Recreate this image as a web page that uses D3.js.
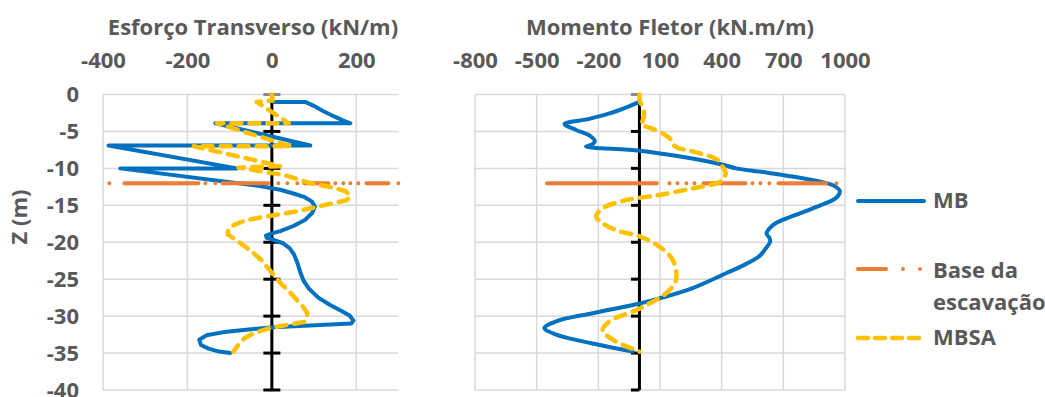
<!DOCTYPE html>
<html>
<head>
<meta charset="utf-8">
<script src="https://cdn.jsdelivr.net/npm/d3@7"></script>
<style>
  html, body { margin: 0; padding: 0; background: #fff; }
  svg { display: block; }
  svg text { font-family: "Open Sans", Lato, sans-serif; font-weight: 700; font-size: 22px; fill: #595959; }
</style>
</head>
<body>
<svg id="chart" width="1045" height="397"></svg>
<script>
// Depth axis (m) and value ticks for both panels
const depthTicks = [0, -5, -10, -15, -20, -25, -30, -35, -40];
const shearTicks = [-400, -200, 0, 200];
const momentTicks = [-800, -500, -200, 100, 400, 700, 1000];

// Excavation base level and the span of its marker line in each panel
const excavationDepth = -12;
const shearBaseExtent = [-385, 300];
const momentBaseExtent = [-450, 960];

// Shear force (kN/m) vs depth z (m)
const shearMB = [
  [5,-1.0],[79,-1.0],[98,-1.5],[120,-2.2],[145,-2.9],[168,-3.5],[186,-3.9],
  [-134,-3.9],[91,-6.9],[-387,-6.9],[-83,-10.0],[-359,-10.0],[-28,-12.4],
  [20,-12.9],[51,-13.4],[78,-13.9],[95,-14.5],[102,-15.2],[96,-16.0],[78,-17.0],
  [51,-17.8],[20,-18.5],[0,-18.8],[-14,-19.1],[-12,-19.4],[5,-19.7],[25,-20.1],
  [42,-20.8],[52,-21.6],[60,-22.7],[67,-24.0],[75,-25.2],[88,-26.3],[110,-27.5],
  [138,-28.5],[165,-29.3],[184,-29.9],[193,-30.6],[188,-31.0],[4,-31.5],
  [-107,-32.1],[-155,-32.6],[-172,-33.2],[-168,-33.9],[-150,-34.4],[-125,-34.8],[-99,-35.0]
];
const shearMBSA = [
  [0,0],[2,-0.8],[-36,-1.0],[40,-3.9],[-130,-3.9],[45,-7.0],[-185,-7.0],[20,-9.7],
  [-79,-9.9],[29,-10.9],[91,-12.0],[145,-12.6],[175,-13.1],[186,-13.7],[178,-14.3],
  [146,-14.7],[100,-15.3],[51,-15.9],[-12,-16.5],[-60,-17.0],[-88,-17.6],[-103,-18.3],
  [-105,-18.9],[-90,-19.5],[-65,-20.5],[-43,-21.5],[-25,-22.4],[-12,-23.3],[4,-24.4],
  [20,-25.5],[40,-26.6],[59,-27.8],[75,-28.8],[84,-29.6],[83,-30.3],[76,-30.8],
  [36,-31.2],[-4,-31.6],[-43,-32.3],[-65,-33.0],[-78,-33.8],[-91,-34.8]
];

// Bending moment (kN.m/m) vs depth z (m)
const momentMB = [
  [0,-1.0],[-60,-1.7],[-150,-2.6],[-244,-3.3],[-365,-4.0],[-308,-4.8],[-240,-5.6],
  [-217,-6.3],[-232,-6.8],[-260,-7.05],[0,-7.6],[200,-8.4],[405,-9.5],[470,-10.0],
  [600,-10.5],[745,-11.1],[880,-11.8],[950,-12.4],[975,-13.1],[956,-14.0],[880,-15.0],
  [760,-16.3],[664,-17.4],[630,-18.2],[618,-18.8],[632,-19.4],[636,-19.9],[610,-21.0],
  [583,-21.9],[500,-23.2],[421,-24.2],[259,-26.2],[97,-27.6],[0,-28.3],[-228,-29.6],
  [-405,-30.7],[-462,-31.6],[-405,-32.5],[-228,-33.7],[-33,-34.8]
];
const momentMBSA = [
  [0,0],[2,-0.9],[18,-1.8],[22,-2.8],[15,-3.6],[8,-4.0],[60,-4.6],[121,-5.4],
  [150,-6.0],[165,-6.8],[186,-7.2],[243,-7.6],[300,-8.0],[356,-8.5],[388,-9.0],
  [405,-9.8],[420,-10.6],[405,-11.5],[378,-12.0],[259,-12.7],[97,-13.6],[-65,-14.3],
  [-179,-15.4],[-211,-16.5],[-175,-17.5],[-100,-18.5],[0,-19.2],[97,-20.6],[162,-22.4],
  [178,-25.1],[130,-26.9],[48,-28.3],[-16,-29.2],[-146,-30.7],[-179,-31.9],[-130,-33.2],[0,-34.8]
];

const seriesNames = ["MB", "Base da escavação", "MBSA"];

const COLORS = { mb: "#0070C0", base: "#ED7D31", mbsa: "#FFC000", grid: "#D9D9D9" };
const svg = d3.select("#chart");
const y = d3.scaleLinear().domain([0, -40]).range([94.5, 390]);
const plainNumber = d => String(d);   // ASCII hyphen for negatives

const panels = [
  {
    title: "Esforço Transverso (kN/m)", titleX: 253,
    domain: [-400, 300], range: [103, 398.5], ticks: shearTicks,
    mb: shearMB, mbsa: shearMBSA, base: shearBaseExtent,
    crossTicks: true, curve: d3.curveLinear,
    baseDash: "0,15,74,7,0,10,0,7,46,10,0,9,0,10,0,7,24,7,0,8,0,7,0,8,0,8,22,10,0,60"
  },
  {
    title: "Momento Fletor (kN.m/m)", titleX: 670,
    domain: [-800, 1000], range: [475, 845], ticks: momentTicks,
    mb: momentMB, mbsa: momentMBSA, base: momentBaseExtent,
    crossTicks: false, curve: d3.curveCatmullRom.alpha(0.5),
    baseDash: "110,12.5,0,8,0,9,0,8,0,9,42,7,0,8,0,9,0,9,48,10,0,60"
  }
];

panels.forEach(p => {
  const x = d3.scaleLinear().domain(p.domain).range(p.range);
  const g = svg.append("g");

  // gridlines
  g.append("g").selectAll("line").data(depthTicks).join("line")
    .attr("x1", p.range[0]).attr("x2", p.range[1])
    .attr("y1", d => y(d)).attr("y2", d => y(d))
    .attr("stroke", COLORS.grid).attr("stroke-width", 1.5);
  g.append("g").selectAll("line").data(p.ticks).join("line")
    .attr("x1", d => x(d)).attr("x2", d => x(d))
    .attr("y1", y(0)).attr("y2", y(-40))
    .attr("stroke", COLORS.grid).attr("stroke-width", 1.5);

  // vertical value axis through zero
  const x0 = x(0);
  g.append("line")
    .attr("x1", x0).attr("x2", x0).attr("y1", y(0)).attr("y2", y(-40))
    .attr("stroke", "#000").attr("stroke-width", 3);
  g.append("g").selectAll("line").data(depthTicks).join("line")
    .attr("x1", x0 - 8.5).attr("x2", p.crossTicks ? x0 + 8.5 : x0)
    .attr("y1", d => y(d)).attr("y2", d => y(d))
    .attr("stroke", d => d === 0 ? "#8C8C8C" : "#000").attr("stroke-width", 3);

  // top tick labels
  const top = g.append("g").attr("transform", "translate(0,68)")
    .call(d3.axisTop(x).tickValues(p.ticks).tickSize(0).tickPadding(0).tickFormat(plainNumber));
  top.select(".domain").remove();
  top.selectAll("text").attr("text-anchor", "middle");

  // panel title
  g.append("text").attr("x", p.titleX).attr("y", 35).attr("text-anchor", "middle").text(p.title);

  const line = d3.line().x(d => x(d[0])).y(d => y(d[1])).curve(p.curve);

  g.append("path").datum(p.mb).attr("d", line)
    .attr("fill", "none").attr("stroke", COLORS.mb).attr("stroke-width", 4)
    .attr("stroke-linejoin", "round").attr("stroke-linecap", "round");

  g.append("path").datum(p.base.map(v => [v, excavationDepth])).attr("d", d3.line().x(d => x(d[0])).y(d => y(d[1])))
    .attr("fill", "none").attr("stroke", COLORS.base).attr("stroke-width", 4)
    .attr("stroke-linecap", "round").attr("stroke-dasharray", p.baseDash);

  g.append("path").datum(p.mbsa).attr("d", line)
    .attr("fill", "none").attr("stroke", COLORS.mbsa).attr("stroke-width", 4.5)
    .attr("stroke-linejoin", "round").attr("stroke-linecap", "round")
    .attr("stroke-dasharray", "10,8");
});

// depth labels on the left of the first panel
const yAx = svg.append("g").attr("transform", "translate(79,0)")
  .call(d3.axisLeft(y).tickValues(depthTicks).tickSize(0).tickPadding(0).tickFormat(plainNumber));
yAx.select(".domain").remove();

svg.append("text").attr("transform", "translate(27,217) rotate(-90)")
  .attr("text-anchor", "middle").text("Z (m)");

// legend
const legend = svg.append("g");
const legendItems = [
  { name: seriesNames[0], y: 201, color: COLORS.mb, dash: null, width: 4 },
  { name: seriesNames[1], y: 269, color: COLORS.base, dash: "28,17,0,17,0,100", width: 4 },
  { name: seriesNames[2], y: 338, color: COLORS.mbsa, dash: "10,7", width: 4.5 }
];
legendItems.forEach(it => {
  legend.append("line")
    .attr("x1", 858).attr("x2", 924).attr("y1", it.y).attr("y2", it.y)
    .attr("stroke", it.color).attr("stroke-width", it.width)
    .attr("stroke-linecap", "round").attr("stroke-dasharray", it.dash);
});
legend.append("text").attr("x", 933).attr("y", 208).text("MB");
const baseLabel = legend.append("text").attr("x", 933).attr("y", 278);
const words = seriesNames[1].split(" ");
baseLabel.append("tspan").attr("x", 933).text(words.slice(0, 2).join(" "));
baseLabel.append("tspan").attr("x", 933).attr("dy", 32).text(words.slice(2).join(" "));
legend.append("text").attr("x", 933).attr("y", 345).text("MBSA");
</script>
</body>
</html>
